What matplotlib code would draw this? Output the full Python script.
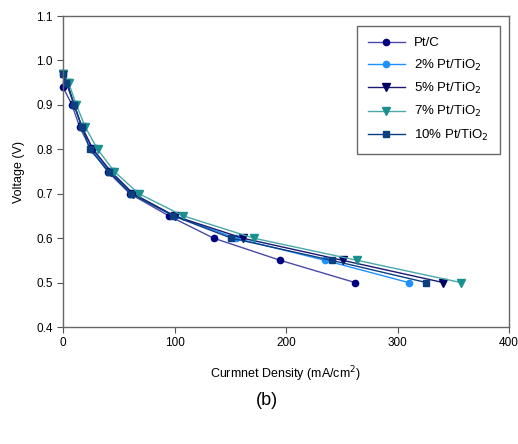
import matplotlib
matplotlib.use("Agg")
import matplotlib.pyplot as plt

voltage_ptc = [0.94, 0.90, 0.85, 0.80, 0.75, 0.70, 0.65, 0.60, 0.55, 0.50]
current_ptc = [0, 8, 15, 25, 40, 60, 95, 135, 195, 262]

voltage_tio2 = [0.97, 0.95, 0.90, 0.85, 0.80, 0.75, 0.70, 0.65, 0.60, 0.55, 0.50]
current_2 = [0, 3, 10, 17, 26, 42, 62, 100, 155, 235, 310]
current_5 = [0, 4, 10, 17, 27, 43, 63, 100, 161, 251, 341]
current_7 = [0, 5, 12, 20, 31, 46, 68, 108, 171, 264, 357]
current_10 = [0, 3, 10, 17, 24, 41, 61, 99, 151, 241, 326]

labels = ["Pt/C", "2% Pt/TiO$_2$", "5% Pt/TiO$_2$", "7% Pt/TiO$_2$", "10% Pt/TiO$_2$"]

plt.rcParams['font.family'] = ['Liberation Sans', 'DejaVu Sans']

fig = plt.figure(figsize=(5.18, 4.44), dpi=100)
ax = fig.add_axes([63/518, 1-327/444, (509-63)/518, (327-16)/444])

series = [
    (current_ptc, voltage_ptc, 'o', '#000080', '#4a4aa8', 4.5),
    (current_2, voltage_tio2, 'o', '#1e90ff', '#1e90ff', 4.5),
    (current_5, voltage_tio2, 'v', '#000066', '#1a1a70', 5.5),
    (current_7, voltage_tio2, 'v', '#1a8f8f', '#4aa8a8', 5.5),
    (current_10, voltage_tio2, 's', '#0b3f80', '#0b3f80', 5),
]
for (x, y, m, mc, lc, ms), lab in zip(series, labels):
    ax.plot(x, y, color=lc, lw=1.0, marker=m, markersize=ms,
            markerfacecolor=mc, markeredgecolor=mc, label=lab, clip_on=False)

ax.set_xlim(0, 400)
ax.set_ylim(0.4, 1.1)
ax.set_xticks([0, 100, 200, 300, 400])
ax.set_yticks([0.4, 0.5, 0.6, 0.7, 0.8, 0.9, 1.0, 1.1])
ax.set_yticklabels([f"{v:.1f}" for v in [0.4, 0.5, 0.6, 0.7, 0.8, 0.9, 1.0, 1.1]])
ax.tick_params(labelsize=8.5, length=4, width=0.8, color='#555555', direction='out')
for s in ax.spines.values():
    s.set_color('#666666')
    s.set_linewidth(1.0)

ax.set_xlabel("Curmnet Density (mA/cm$^2$)", fontsize=9, labelpad=11)
ax.set_ylabel("Voltage (V)", fontsize=9, labelpad=8)

leg = ax.legend(loc='upper right', bbox_to_anchor=(500/518, 1-26/444),
                bbox_transform=fig.transFigure, fontsize=9.5, frameon=True,
                fancybox=False, edgecolor='#444444', handlelength=2.8,
                borderpad=0.85, labelspacing=0.62, handletextpad=0.7,
                borderaxespad=0)
leg.get_frame().set_linewidth(1.0)

fig.text(267/518, 1-400/444, "(b)", ha='center', va='center', fontsize=13)

fig.savefig("out.png", dpi=100)
